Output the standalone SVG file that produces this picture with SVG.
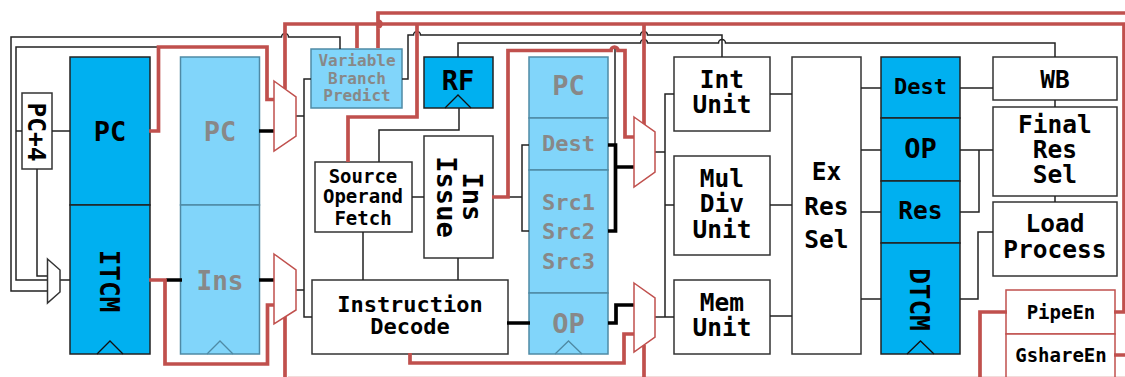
<svg xmlns="http://www.w3.org/2000/svg" width="1125" height="377" viewBox="0 0 1125 377">
<style>
text{font-family:"DejaVu Sans Mono","Liberation Mono",monospace;font-weight:700;text-anchor:middle;fill:#000}
.box{fill:#fff;stroke:#333;stroke-width:1.5}
.reg{fill:#00b0f0;stroke:#222;stroke-width:1.5}
.pipe{fill:#81d5fa;stroke:#4f8aa5;stroke-width:1.5}
.tri{fill:none;stroke:#111;stroke-width:1.3}
.ptri{fill:none;stroke:#4f8aa5;stroke-width:1.3}
.mux{fill:#fff;stroke:#c0504d;stroke-width:1.5}
.red{fill:#fff;stroke:#c0504d;stroke-width:1.5}
.g{fill:#888}
.w{fill:none;stroke:#222;stroke-width:1.5}
.r{fill:none;stroke:#c0504d;stroke-width:3.7}
.t{fill:none;stroke:#000;stroke-width:3.7}
.s16{font-size:16px}.s19{font-size:19px}.s22{font-size:22px}.s25{font-size:24.5px}.s26{font-size:26px}.s27{font-size:27px}
</style>

<g id="nodes">
<g id="pc-plus-4"><rect class="box" x="22" y="93" width="30" height="76"/><text class="s25" transform="translate(37 132) rotate(90)" y="9">PC+4</text></g>
<g id="pc"><rect class="reg" x="70" y="57" width="80" height="148"/><text class="s27" x="110" y="141">PC</text></g>
<g id="itcm"><rect class="reg" x="70" y="205" width="80" height="149"/><path class="tri" d="M97 354L110 341L123 354"/><text class="s26" transform="translate(110 281) rotate(90)" y="10">ITCM</text></g>
<g id="if-pc"><rect class="pipe" x="180.500" y="57" width="79" height="148"/><text class="s27 g" x="220" y="141">PC</text></g>
<g id="if-ins"><rect class="pipe" x="180.500" y="205" width="79" height="149"/><path class="ptri" d="M207 354L220 341L233 354"/><text class="s26 g" x="220" y="290">Ins</text></g>
<g id="vbp"><rect class="pipe" x="311" y="49" width="91" height="59"/><text class="s16 g" x="357" y="66">Variable</text><text class="s16 g" x="357" y="84">Branch</text><text class="s16 g" x="357" y="101">Predict</text></g>
<g id="rf"><rect class="reg" x="424" y="57" width="69" height="51"/><path class="tri" d="M445 108L458 95L471 108"/><text class="s27" x="458" y="90">RF</text></g>
<g id="sof"><rect class="box" x="315" y="162" width="97" height="70"/><text class="s19" x="363" y="183">Source</text><text class="s19" x="363" y="203">Operand</text><text class="s19" x="363" y="225">Fetch</text></g>
<g id="issue"><rect class="box" x="424" y="136" width="69" height="122"/><text class="s27" transform="translate(463 197) rotate(90)">Ins</text><text class="s27" transform="translate(437 197) rotate(90)">Issue</text></g>
<g id="decode"><rect class="box" x="312" y="280" width="196" height="74"/><text class="s22" x="410" y="312">Instruction</text><text class="s22" x="410" y="334">Decode</text></g>
<g id="id-pc"><rect class="pipe" x="529" y="57" width="79" height="61"/><text class="s27 g" x="568.500" y="95">PC</text></g>
<g id="id-dest"><rect class="pipe" x="529" y="118" width="79" height="52"/><text class="s22 g" x="568.500" y="151">Dest</text></g>
<g id="id-src"><rect class="pipe" x="529" y="170" width="79" height="123"/><text class="s22 g" x="568.500" y="210">Src1</text><text class="s22 g" x="568.500" y="239">Src2</text><text class="s22 g" x="568.500" y="269">Src3</text></g>
<g id="id-op"><rect class="pipe" x="529" y="293" width="79" height="61"/><path class="ptri" d="M555 354L568.500 341L582 354"/><text class="s27 g" x="568.500" y="333">OP</text></g>
<g id="int"><rect class="box" x="674" y="57" width="96" height="74"/><text class="s25" x="722" y="88">Int</text><text class="s25" x="722" y="113">Unit</text></g>
<g id="mul"><rect class="box" x="674" y="156" width="96" height="99"/><text class="s25" x="722" y="187">Mul</text><text class="s25" x="722" y="212">Div</text><text class="s25" x="722" y="238">Unit</text></g>
<g id="mem"><rect class="box" x="674" y="280" width="96" height="74"/><text class="s25" x="722" y="311">Mem</text><text class="s25" x="722" y="336">Unit</text></g>
<g id="exsel"><rect class="box" x="792" y="57" width="69" height="297"/><text class="s25" x="826.500" y="180">Ex</text><text class="s25" x="826.500" y="215">Res</text><text class="s25" x="826.500" y="248">Sel</text></g>
<g id="ex-dest"><rect class="reg" x="881" y="57" width="79" height="61"/><text class="s22" x="920.500" y="94">Dest</text></g>
<g id="ex-op"><rect class="reg" x="881" y="118" width="79" height="63"/><text class="s27" x="920.500" y="158">OP</text></g>
<g id="ex-res"><rect class="reg" x="881" y="181" width="79" height="62"/><text class="s25" x="920.500" y="219">Res</text></g>
<g id="dtcm"><rect class="reg" x="881" y="243" width="79" height="111"/><path class="tri" d="M907 354L920.500 341L934 354"/><text class="s26" transform="translate(910 299.500) rotate(90)">DTCM</text></g>
<g id="wb"><rect class="box" x="993" y="57" width="124" height="43"/><text class="s25" x="1055" y="88">WB</text></g>
<g id="final"><rect class="box" x="993" y="107" width="124" height="89"/><text class="s25" x="1055" y="133">Final</text><text class="s25" x="1055" y="158">Res</text><text class="s25" x="1055" y="183">Sel</text></g>
<g id="load"><rect class="box" x="993" y="202" width="124" height="74"/><text class="s25" x="1055" y="232">Load</text><text class="s25" x="1055" y="258">Process</text></g>
<g id="pipeen"><rect class="red" x="1006" y="290" width="109" height="44"/><text class="s19" x="1061" y="319">PipeEn</text></g>
<g id="gshareen"><rect class="red" x="1006" y="334" width="109" height="50"/><text class="s19" x="1061" y="362">GshareEn</text></g>
</g>

<g id="connectors">
<path class="w" d="M47 291H11V37H281.500a3.500 3.500 0 0 1 7 0H340V49"/>
<path class="w" d="M47 280H16V47H159M16 131H22M52 131H70M37 169V276H47M60 280H70"/>
<path class="w" d="M296 116H304M296 290H304M311 79H304V317H312"/>
<path class="w" d="M402 79H408V35H413.500a3.500 3.500 0 0 1 7 0H640.500a3.500 3.500 0 0 1 7 0H722V57"/>
<path class="w" d="M458 57V43H640.500a3.500 3.500 0 0 1 7 0H718.500a3.500 3.500 0 0 1 7 0H1055V57"/>
<path class="w" d="M459 108V130H379V162M412 197H424M363 232V280M458 258V280M493 197H522M529 145H522V231H529M615 47V145"/>
<path class="w" d="M655 152H665M655 317H665M674 94H665V317H674M665 205H674"/>
<path class="w" d="M770 94H792M770 205H792M770 316H792M861 88H881M861 150H881M861 212H881M861 299H881"/>
<path class="w" d="M960 88H993M960 150H993M960 212H979V150M960 299H978V232H993M1055 100V107M1055 196V202"/>
<path class="t" d="M259 131H274M166 280H182M259 280H274M507 323H530M608 145H615.500V231H608M615.500 167H634M608 323H616V305H634"/>
<path class="r" d="M149 131H158.500V47H267V99.500H274M149 280H165V364H267.500V305H274"/>
<path class="r" d="M285 89V24H1124V312H1114M357 24V48M378 48V27a3 3 0 0 0 0-6V13H1125M417 24V117H348V162M644 24V125"/>
<path class="r" d="M492 197H508V50.500H611a3.500 3.500 0 0 1 7 0H625V137H634M410 353V363H624V334H634"/>
<path class="r" d="M285 316V377M644 345V377M1007 312H980V377M1114 355H1125"/>
<path d="M288 376.500H1125" fill="none" stroke="#c0504d" stroke-width="1" opacity=".2"/>
</g>

<g id="muxes">
<polygon id="mux-pc" class="box" points="47.500,259 60,270 60,292 47.500,303"/>
<polygon id="mux-if-pc" class="mux" points="274,81 296,97 296,136 274,151"/>
<polygon id="mux-if-ins" class="mux" points="274,254 296,270 296,310 274,324"/>
<polygon id="mux-id-1" class="mux" points="634,117 655,132 655,172 634,187"/>
<polygon id="mux-id-2" class="mux" points="634,283 655,298 655,337 634,352"/>
</g>
</svg>
